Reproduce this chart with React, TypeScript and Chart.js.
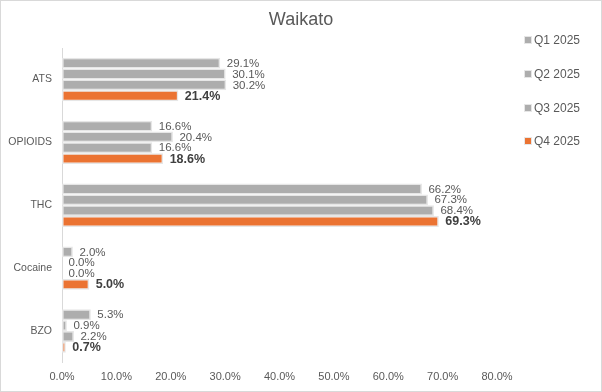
import React, { useEffect, useRef } from "react";
import { Chart, registerables } from "chart.js";

Chart.register(...registerables);

const title = "Waikato";
const categories = ["ATS", "OPIOIDS", "THC", "Cocaine", "BZO"];
const seriesNames = ["Q1 2025", "Q2 2025", "Q3 2025", "Q4 2025"];
const q1 = [29.1, 16.6, 66.2, 2.0, 5.3];
const q2 = [30.1, 20.4, 67.3, 0.0, 0.9];
const q3 = [30.2, 16.6, 68.4, 0.0, 2.2];
const q4 = [21.4, 18.6, 69.3, 5.0, 0.7];
const seriesValues = [q1, q2, q3, q4];
const seriesColors = ["#ADADAD", "#ADADAD", "#ADADAD", "#EB7332"];
const xTicksMin = 0;
const xTicksMax = 80;
const xTickStep = 10;

const FONT = "'Liberation Sans', Arial, sans-serif";

export default function App() {
  const ref = useRef<HTMLCanvasElement | null>(null);

  useEffect(() => {
    const canvas = ref.current;
    if (!canvas) return;

    const labelsPlugin = {
      id: "valueLabels",
      afterDatasetsDraw(chart: any) {
        const ctx = chart.ctx;
        ctx.save();
        ctx.textBaseline = "middle";
        ctx.textAlign = "left";
        chart.data.datasets.forEach((ds: any, di: number) => {
          const meta = chart.getDatasetMeta(di);
          const bold = di === 3;
          ctx.font = bold ? `bold 12.5px ${FONT}` : `11.5px ${FONT}`;
          ctx.fillStyle = bold ? "#404040" : "#595959";
          meta.data.forEach((el: any, i: number) => {
            const v = ds.data[i] as number;
            ctx.fillText(v.toFixed(1) + "%", el.x + 6.5, el.y + 0.5);
          });
        });
        ctx.restore();
      },
    };

    const decorPlugin = {
      id: "decor",
      afterDraw(chart: any) {
        const ctx = chart.ctx;
        ctx.save();
        ctx.font = `18px ${FONT}`;
        ctx.fillStyle = "#595959";
        ctx.textAlign = "center";
        ctx.textBaseline = "middle";
        ctx.fillText(title, chart.width / 2, 19);
        // legend
        ctx.font = `12px ${FONT}`;
        ctx.textAlign = "left";
        const ys = [39, 73, 107, 140];
        seriesNames.forEach((name, i) => {
          const y = ys[i];
          ctx.fillStyle = "#E6E6E6";
          ctx.fillRect(523, y - 4, 8, 8);
          ctx.fillStyle = seriesColors[i];
          ctx.fillRect(524, y - 3, 6, 6);
          ctx.fillStyle = "#595959";
          ctx.fillText(name, 533, y + 0.5);
        });
        ctx.restore();
      },
    };

    const chart = new Chart(canvas, {
      type: "bar",
      data: {
        labels: categories,
        datasets: seriesNames.map((name, i) => ({
          label: name,
          data: seriesValues[i],
          backgroundColor: seriesColors[i],
          borderColor: "#E6E6E6",
          borderWidth: 1.5,
          borderSkipped: false,
          barPercentage: 1,
          categoryPercentage: 0.69,
        })),
      },
      options: {
        indexAxis: "y",
        responsive: false,
        animation: false,
        devicePixelRatio: 1,
        layout: { padding: { top: 47, right: 104, bottom: 0, left: 0 } },
        plugins: {
          legend: { display: false },
          title: { display: false },
          tooltip: { enabled: false },
        },
        scales: {
          x: {
            min: xTicksMin,
            max: xTicksMax,
            ticks: {
              stepSize: xTickStep,
              padding: 8,
              color: "#595959",
              font: { family: FONT, size: 11 },
              callback: (v: any) => Number(v).toFixed(1) + "%",
            },
            grid: { display: false, drawTicks: false },
            border: { display: false },
            afterFit: (scale: any) => {
              scale.height = 28.5;
            },
          },
          y: {
            ticks: {
              padding: 10,
              color: "#595959",
              font: { family: FONT, size: 10.5 },
            },
            grid: { color: "transparent", drawTicks: false },
            border: { display: true, color: "#D9D9D9", width: 1 },
            afterFit: (scale: any) => {
              scale.width = 61;
            },
          },
        },
      },
      plugins: [labelsPlugin, decorPlugin],
    } as any);

    return () => chart.destroy();
  }, []);

  return (
    <div
      style={{
        position: "absolute",
        left: 0,
        top: 0,
        width: 602,
        height: 392,
        boxSizing: "border-box",
        border: "1px solid #D9D9D9",
        background: "#FFFFFF",
      }}
    >
      <canvas ref={ref} width={600} height={390} style={{ display: "block", width: 600, height: 390 }} />
    </div>
  );
}
